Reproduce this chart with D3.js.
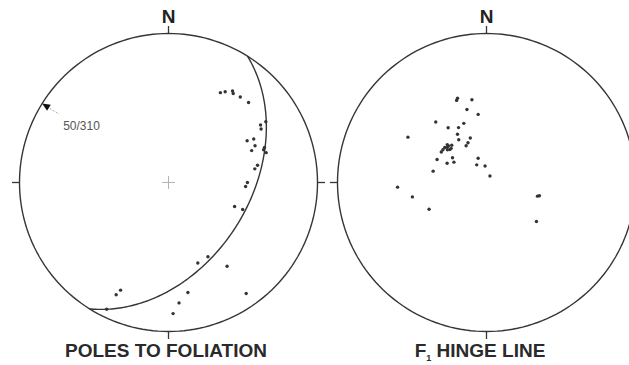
<!DOCTYPE html>
<html>
<head>
<meta charset="utf-8">
<script src="https://cdn.jsdelivr.net/npm/d3@7"></script>
<style>
  body { margin: 0; background: #fff; }
  svg { display: block; }
</style>
</head>
<body>
<svg id="chart" width="629" height="365"></svg>
<script>
// Lower-hemisphere equal-area nets. Every measurement is [trend, plunge] in degrees.

// Poles to foliation
const foliationPoles = [
  [30, 31], [32, 29], [35, 26], [36, 27], [40, 26], [45, 25],
  [58, 24], [58, 28], [60, 29], [62, 40], [63, 36], [67, 37],
  [69, 40], [71, 33], [73, 32], [70, 32], [79, 39], [81, 41],
  [90, 46], [93, 47], [110, 51], [110, 46], [160, 42], [152, 43],
  [145, 32], [145, 10], [205, 18], [204, 22], [170, 26], [175, 20],
  [178, 13], [206, 6]
];

// F1 hinge lines
const hingeLines = [
  [341, 40], [340, 41], [350, 43], [345, 48], [353, 52], [320, 46],
  [325, 53], [333, 56], [339, 55], [300, 39], [329, 59], [327, 62],
  [340, 64], [335, 66], [331, 67], [314, 60], [310, 60], [312, 63],
  [304, 60], [312, 61], [314, 61], [314, 63], [310, 62], [295, 60],
  [296, 66], [306, 67], [302, 69], [341, 76], [331, 79], [355, 81],
  [28, 86], [282, 60], [267, 40], [259, 48], [245, 55], [105, 61],
  [104, 60], [128, 55], [307, 60], [317, 62]
];

// Best-fit girdle to the foliation poles (dip direction, dip)
const girdlePlane = [122, 45];
const girdleAxisLabel = "50/310";

const netTitles = ["POLES TO FOLIATION", "F", "1", " HINGE LINE"];
const northLabel = "N";

const R = 149;
const cy = 182.5;
const nets = [
  { cx: 168.5, data: foliationPoles, cross: true },
  { cx: 486.5, data: hingeLines, cross: false }
];

const svg = d3.select("#chart");
svg.append("rect").attr("width", 629).attr("height", 365).attr("fill", "#fff");

const ink = "#363636";
const font = "'Liberation Sans', Arial, Helvetica, sans-serif";

// geographic coordinates for a line: longitude from trend, latitude = plunge
const toGeo = ([trend, plunge]) => [180 - trend, plunge];

nets.forEach((net, i) => {
  const proj = d3.geoAzimuthalEqualArea()
    .rotate([0, -90])
    .scale(R / Math.SQRT2)
    .translate([net.cx, cy])
    .clipAngle(90)
    .precision(0.1);
  const path = d3.geoPath(proj);
  const g = svg.append("g");

  // primitive circle
  g.append("path")
    .datum({ type: "Sphere" })
    .attr("d", path)
    .attr("fill", "none")
    .attr("stroke", ink)
    .attr("stroke-width", 1.4);

  // cardinal ticks at N, E, S, W
  [0, 90, 180, 270].forEach(az => {
    const p0 = proj(toGeo([az, 0]));
    const ux = Math.sin(az * Math.PI / 180), uy = -Math.cos(az * Math.PI / 180);
    g.append("line")
      .attr("x1", p0[0]).attr("y1", p0[1])
      .attr("x2", p0[0] + ux * 7.5).attr("y2", p0[1] + uy * 7.5)
      .attr("stroke", ink).attr("stroke-width", 1.3);
  });

  // north label
  const pn = proj(toGeo([0, 0]));
  g.append("text")
    .attr("x", pn[0]).attr("y", 23)
    .attr("text-anchor", "middle")
    .attr("font-family", font).attr("font-weight", "bold")
    .attr("font-size", 19).attr("fill", "#222")
    .text(northLabel);

  // centre cross
  if (net.cross) {
    const c = proj(toGeo([0, 90]));
    g.append("path")
      .attr("d", `M${c[0] - 6.5},${c[1]}H${c[0] + 6.5}M${c[0]},${c[1] - 6.5}V${c[1] + 6.5}`)
      .attr("stroke", "#aaa").attr("stroke-width", 0.9).attr("fill", "none");
  }

  // girdle great circle and its pole direction
  if (i === 0) {
    const [dipDir, dip] = girdlePlane;
    const poleTrend = (dipDir + 180) % 360;
    const circle = d3.geoCircle().center(toGeo([poleTrend, 90 - dip])).radius(90).precision(1)();
    g.append("path")
      .datum({ type: "LineString", coordinates: circle.coordinates[0] })
      .attr("d", path)
      .attr("fill", "none")
      .attr("stroke", ink)
      .attr("stroke-width", 1.4);

    const tip = proj(toGeo([poleTrend, 0]));
    const c = proj(toGeo([0, 90]));
    const len = Math.hypot(c[0] - tip[0], c[1] - tip[1]);
    const ux = (c[0] - tip[0]) / len, uy = (c[1] - tip[1]) / len;
    const vx = -uy, vy = ux;
    g.append("path")
      .attr("d", `M${tip[0]},${tip[1]}L${tip[0] + ux * 8 + vx * 3.5},${tip[1] + uy * 8 + vy * 3.5}L${tip[0] + ux * 8 - vx * 3.5},${tip[1] + uy * 8 - vy * 3.5}Z`)
      .attr("fill", "#111");
    g.append("line")
      .attr("x1", tip[0] + ux * 9).attr("y1", tip[1] + uy * 9)
      .attr("x2", tip[0] + ux * 20).attr("y2", tip[1] + uy * 20)
      .attr("stroke", "#999").attr("stroke-width", 0.8)
      .attr("stroke-dasharray", "2,1.5");
    g.append("text")
      .attr("x", tip[0] + 21).attr("y", tip[1] + 26)
      .attr("font-family", font).attr("font-size", 12)
      .attr("fill", "#555")
      .text(girdleAxisLabel);
  }

  // data points
  g.selectAll("circle.pt")
    .data(net.data)
    .join("circle")
    .attr("class", "pt")
    .attr("cx", d => proj(toGeo(d))[0])
    .attr("cy", d => proj(toGeo(d))[1])
    .attr("r", 1.7)
    .attr("fill", "#333");
});

// titles under the nets
svg.append("text")
  .attr("x", 166).attr("y", 357)
  .attr("text-anchor", "middle")
  .attr("font-family", font).attr("font-weight", "bold")
  .attr("font-size", 19).attr("fill", "#2a2a2a")
  .text(netTitles[0]);

const t2 = svg.append("text")
  .attr("x", 480).attr("y", 357)
  .attr("text-anchor", "middle")
  .attr("font-family", font).attr("font-weight", "bold")
  .attr("font-size", 19).attr("fill", "#2a2a2a");
t2.append("tspan").text(netTitles[1]);
t2.append("tspan").attr("font-size", 9).attr("dy", 4).text(netTitles[2]);
t2.append("tspan").attr("dy", -4).text(netTitles[3]);
</script>
</body>
</html>
